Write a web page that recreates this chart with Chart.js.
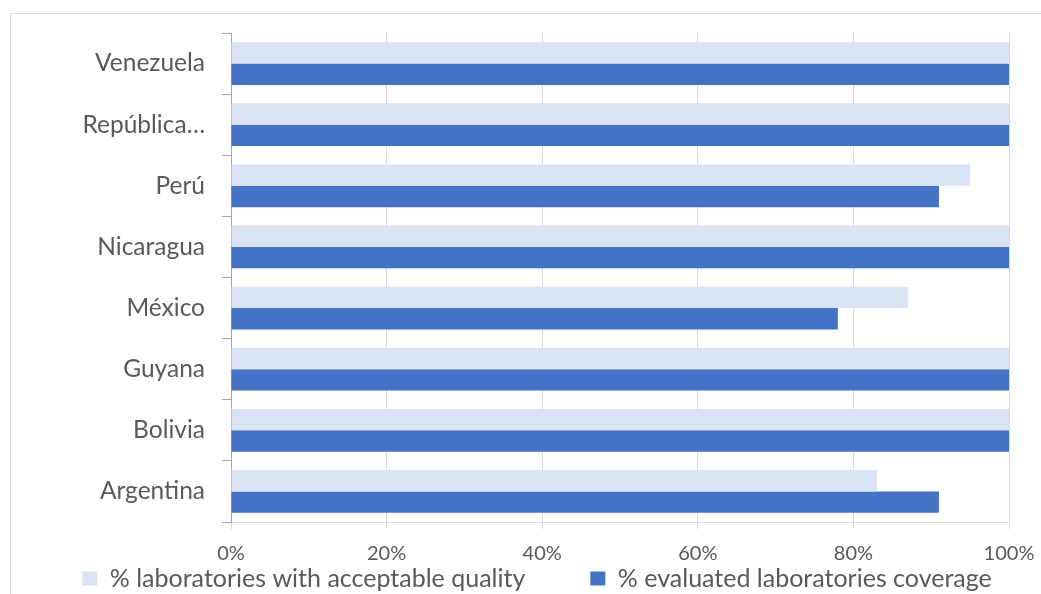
<!DOCTYPE html>
<html>
<head>
<meta charset="utf-8">
<script src="https://cdn.jsdelivr.net/npm/chart.js@4.4.1/dist/chart.umd.min.js"></script>
<style>
  html, body { margin: 0; padding: 0; background: #fff; }
  #wrap { width: 1041px; height: 594px; }
</style>
</head>
<body>
<div id="wrap"><canvas id="labChart" width="1041" height="594"></canvas></div>
<script>
const countries = ['Venezuela', 'República…', 'Perú', 'Nicaragua', 'México', 'Guyana', 'Bolivia', 'Argentina'];
const qualityPct = [100, 100, 95, 100, 87, 100, 100, 83];
const coveragePct = [100, 100, 91, 100, 78, 100, 100, 91];
const xTicks = [0, 20, 40, 60, 80, 100];

const seriesNames = ['% laboratories with acceptable quality', '% evaluated laboratories coverage'];
const textColor = '#595959';
const fontFamily = 'Lato, "Open Sans", sans-serif';

// white page with the light frame around the chart
const frame = {
    id: 'frame',
    beforeDraw(chart) {
        const ctx = chart.ctx;
        ctx.save();
        ctx.fillStyle = '#ffffff';
        ctx.fillRect(0, 0, chart.width, chart.height);
        ctx.strokeStyle = '#d9d9d9';
        ctx.lineWidth = 1;
        ctx.strokeRect(10.5, 13.5, chart.width + 20, chart.height + 20);
        ctx.restore();
    }
};

// legend padding is used for the gap between items, so pull the row up
// to sit just under the axis labels
const legendRow = {
    id: 'legendRow',
    afterLayout(chart) {
        const lg = chart.legend;
        const pad = lg.options.labels.padding;
        lg.top = 566 - pad;
    }
};

const ctx = document.getElementById('labChart').getContext('2d');
new Chart(ctx, {
    type: 'bar',
    data: {
        labels: countries,
        datasets: [{
            label: seriesNames[0],
            data: qualityPct,
            backgroundColor: '#dae3f3',
            categoryPercentage: 0.7,
            barPercentage: 1
        }, {
            label: seriesNames[1],
            data: coveragePct,
            backgroundColor: '#4472c4',
            categoryPercentage: 0.7,
            barPercentage: 1
        }]
    },
    options: {
        indexAxis: 'y',
        responsive: false,
        animation: false,
        layout: {
            // negative right side widens the legend row only; the plot edge
            // comes from the x axis paddingRight below
            padding: { top: 33, left: 0, right: -33, bottom: 0 }
        },
        scales: {
            x: {
                min: 0,
                max: 100,
                afterBuildTicks: axis => {
                    axis.ticks = xTicks.map(v => ({ value: v }));
                },
                afterFit: axis => {
                    axis.height = 42;
                    axis.paddingLeft = 0;
                    axis.paddingRight = 32;
                },
                grid: {
                    color: '#d9d9d9',
                    lineWidth: 1,
                    tickLength: 7
                },
                border: { color: '#d9d9d9' },
                ticks: {
                    padding: 13,
                    color: textColor,
                    font: { family: fontFamily, size: 20 },
                    callback: v => v + '%'
                }
            },
            y: {
                afterFit: axis => { axis.width = 231; },
                grid: {
                    drawOnChartArea: false,
                    color: '#a6a6a6',
                    tickLength: 9,
                    offset: true
                },
                border: { color: '#a6a6a6' },
                ticks: {
                    padding: 17,
                    color: textColor,
                    font: { family: fontFamily, size: 24.5 }
                }
            }
        },
        plugins: {
            legend: {
                position: 'bottom',
                maxHeight: 30,
                labels: {
                    boxWidth: 15,
                    boxHeight: 14,
                    padding: 65,
                    color: textColor,
                    font: { family: fontFamily, size: 25 }
                }
            },
            tooltip: { enabled: false }
        }
    },
    plugins: [frame, legendRow]
});
</script>
</body>
</html>
